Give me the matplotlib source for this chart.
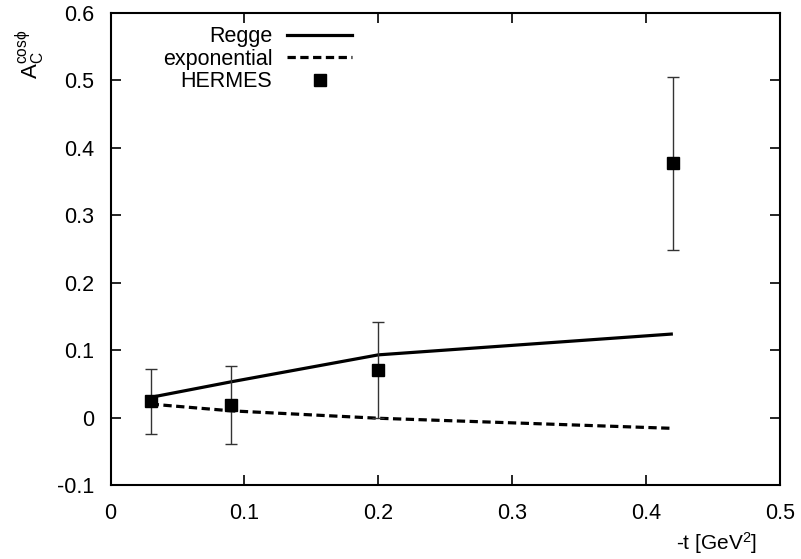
import matplotlib
matplotlib.use("Agg")
import matplotlib.pyplot as plt
from matplotlib.lines import Line2D

plt.rcParams['font.family'] = ['Liberation Sans', 'DejaVu Sans']
plt.rcParams['mathtext.fontset'] = 'custom'
plt.rcParams['mathtext.rm'] = 'Liberation Sans'
plt.rcParams['mathtext.it'] = 'Liberation Sans'

# Data
t_model = [0.03, 0.09, 0.2, 0.42]
regge = [0.030, 0.053, 0.093, 0.124]
exponential = [0.020, 0.010, -0.001, -0.016]

t_hermes = [0.03, 0.09, 0.2, 0.42]
a_hermes = [0.024, 0.019, 0.070, 0.377]
err_hermes = [0.048, 0.058, 0.071, 0.128]

xticks = [0, 0.1, 0.2, 0.3, 0.4, 0.5]
yticks = [-0.1, 0, 0.1, 0.2, 0.3, 0.4, 0.5, 0.6]

FS = 15.5

fig = plt.figure(figsize=(8.01, 5.59), dpi=100)
ax = fig.add_axes([110.5/801, 1-485/559, (780-110.5)/801, (485-13)/559])

ax.plot(t_model, regge, color='black', lw=2.3, solid_capstyle='butt')
ax.plot(t_model, exponential, color='black', lw=2.3, dashes=(2.6, 1.4))
ax.errorbar(t_hermes, a_hermes, yerr=err_hermes, fmt='s', color='black',
            ecolor='#333333', elinewidth=1.0, capsize=4.5, capthick=1.0,
            markersize=8, zorder=3)

ax.set_xlim(0, 0.5)
ax.set_ylim(-0.1, 0.6)
ax.set_xticks(xticks)
ax.set_xticklabels(['0', '0.1', '0.2', '0.3', '0.4', '0.5'])
ax.set_yticks(yticks)
ax.set_yticklabels(['-0.1', '0', '0.1', '0.2', '0.3', '0.4', '0.5', '0.6'])
ax.tick_params(direction='in', length=7, width=1.2, top=True, right=True,
               labelsize=FS)
ax.tick_params(axis='x', pad=13)
ax.tick_params(axis='y', pad=12)
for s in ax.spines.values():
    s.set_linewidth(1.5)

handles = [Line2D([], [], color='black', lw=2.3),
           Line2D([], [], color='black', lw=2.3, dashes=(2.6, 1.4)),
           Line2D([], [], color='black', marker='s', ls='none', markersize=8)]
leg = ax.legend(handles, ['Regge', 'exponential', 'HERMES'], loc='upper left',
                bbox_to_anchor=(0.078, 0.972), frameon=False, markerfirst=False,
                fontsize=FS, handlelength=3.0, handletextpad=0.7,
                labelspacing=0.07, borderpad=0.0, borderaxespad=0.0)
leg._legend_box.align = 'right'

fig.text(30/801, 1-54/559, r'$\mathrm{A_C^{cos\phi}}$', rotation=90,
         fontsize=16, ha='center', va='center')
fig.text(717/801, 1-543/559, r'-t [GeV$^2$]', fontsize=15,
         ha='center', va='center')

fig.savefig('out.png', dpi=100)
